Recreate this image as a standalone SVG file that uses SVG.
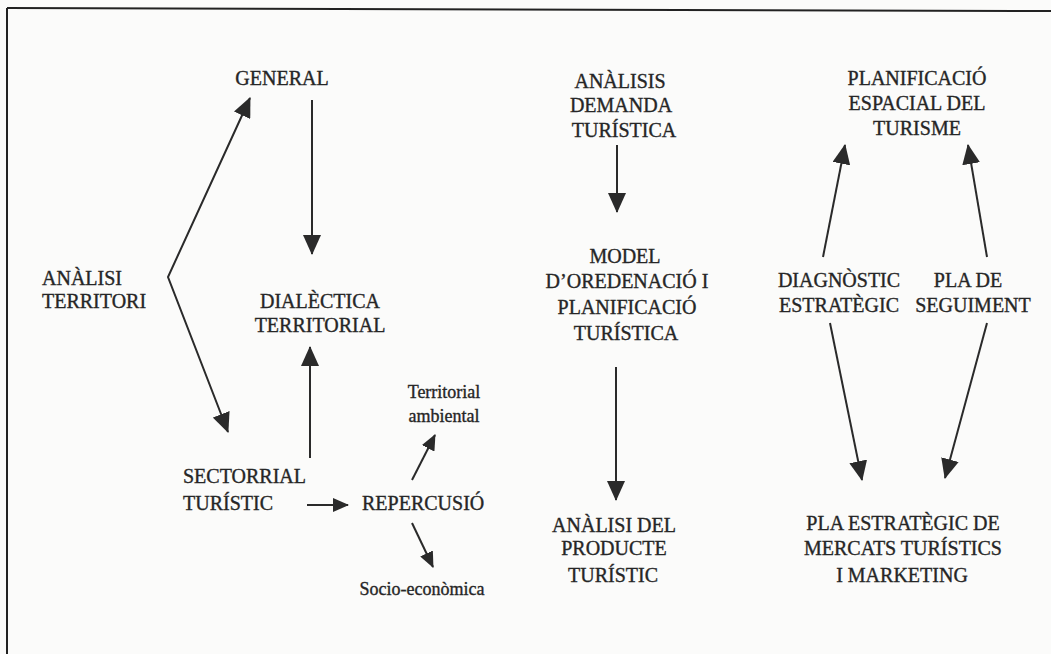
<svg xmlns="http://www.w3.org/2000/svg" width="1051" height="654" viewBox="0 0 1051 654">
<defs>
<style>
text{font-family:'Liberation Serif','Times New Roman','DejaVu Serif',serif;fill:#262626;stroke:#262626;stroke-width:0.35}
.c{font-size:20px;text-anchor:middle}
.l{font-size:20px}
.s{font-size:18px;text-anchor:middle}
.ln{stroke:#2a2a2a;stroke-width:2;fill:none}
</style>
<marker id="ah" markerUnits="userSpaceOnUse" markerWidth="20" markerHeight="18" viewBox="0 0 20 18" refX="19" refY="9" orient="auto-start-reverse">
<path d="M0,0 L20,9 L0,18 Z" fill="#2a2a2a"/>
</marker>
<marker id="as" markerUnits="userSpaceOnUse" markerWidth="16" markerHeight="14" viewBox="0 0 16 14" refX="15" refY="7" orient="auto">
<path d="M0,0 L16,7 L0,14 Z" fill="#2a2a2a"/>
</marker>
</defs>
<rect x="0" y="0" width="1051" height="654" fill="#fbfbfa"/>
<g id="frame">
<line x1="7" y1="8" x2="7" y2="654" stroke="#222" stroke-width="2"/>
<line x1="7" y1="8" x2="1051" y2="11" stroke="#222" stroke-width="2"/>
</g>
<g id="connectors">
<polyline class="ln" points="250,98 168,277 228,432" marker-start="url(#ah)" marker-end="url(#ah)"/>
<line class="ln" x1="312" y1="100" x2="312" y2="254" marker-end="url(#ah)"/>
<line class="ln" x1="310" y1="458" x2="310" y2="347" marker-end="url(#ah)"/>
<line class="ln" x1="307" y1="505" x2="348" y2="505" marker-end="url(#as)"/>
<line class="ln" x1="412" y1="480" x2="435" y2="435" marker-end="url(#as)"/>
<line class="ln" x1="412" y1="523" x2="433" y2="567" marker-end="url(#as)"/>
<line class="ln" x1="617" y1="145" x2="617" y2="212" marker-end="url(#ah)"/>
<line class="ln" x1="616" y1="367" x2="616" y2="500" marker-end="url(#ah)"/>
<line class="ln" x1="823" y1="257" x2="845" y2="145" marker-end="url(#ah)"/>
<line class="ln" x1="987" y1="257" x2="968" y2="145" marker-end="url(#ah)"/>
<line class="ln" x1="830" y1="323" x2="862" y2="480" marker-end="url(#ah)"/>
<line class="ln" x1="987" y1="323" x2="945" y2="478" marker-end="url(#ah)"/>
</g>
<g font-family="'Liberation Serif', serif">
<g id="general"><text class="c" x="282" y="85">GENERAL</text></g>
<g id="analisi-territori"><text class="l" x="42" y="285">ANÀLISI</text><text class="l" x="42" y="308">TERRITORI</text></g>
<g id="dialectica"><text class="c" x="320" y="308">DIALÈCTICA</text><text class="c" x="320" y="332">TERRITORIAL</text></g>
<g id="sectorrial"><text class="l" x="183" y="483">SECTORRIAL</text><text class="l" x="183" y="510">TURÍSTIC</text></g>
<g id="repercusio"><text class="l" x="362" y="510">REPERCUSIÓ</text></g>
<g id="territorial-ambiental"><text class="s" x="444" y="398">Territorial</text><text class="s" x="444" y="422">ambiental</text></g>
<g id="socio-economica"><text class="s" x="422" y="595">Socio-econòmica</text></g>
<g id="analisis-demanda"><text class="c" x="620" y="88">ANÀLISIS</text><text class="c" x="621" y="112">DEMANDA</text><text class="c" x="624" y="137">TURÍSTICA</text></g>
<g id="model"><text class="c" x="625" y="263">MODEL</text><text class="c" x="627" y="288">D’OREDENACIÓ I</text><text class="c" x="627" y="314">PLANIFICACIÓ</text><text class="c" x="626" y="340">TURÍSTICA</text></g>
<g id="analisi-producte"><text class="c" x="614" y="532">ANÀLISI DEL</text><text class="c" x="614" y="555">PRODUCTE</text><text class="c" x="613" y="582">TURÍSTIC</text></g>
<g id="planificacio-espacial"><text class="c" x="917" y="85">PLANIFICACIÓ</text><text class="c" x="917" y="110">ESPACIAL DEL</text><text class="c" x="917" y="135">TURISME</text></g>
<g id="diagnostic"><text class="c" x="839" y="287">DIAGNÒSTIC</text><text class="c" x="839" y="312">ESTRATÈGIC</text></g>
<g id="pla-seguiment"><text class="c" x="968" y="287">PLA DE</text><text class="c" x="973" y="312">SEGUIMENT</text></g>
<g id="pla-estrategic"><text class="c" x="903" y="530">PLA ESTRATÈGIC DE</text><text class="c" x="903" y="555">MERCATS TURÍSTICS</text><text class="c" x="902" y="582">I MARKETING</text></g>
</g>
</svg>
